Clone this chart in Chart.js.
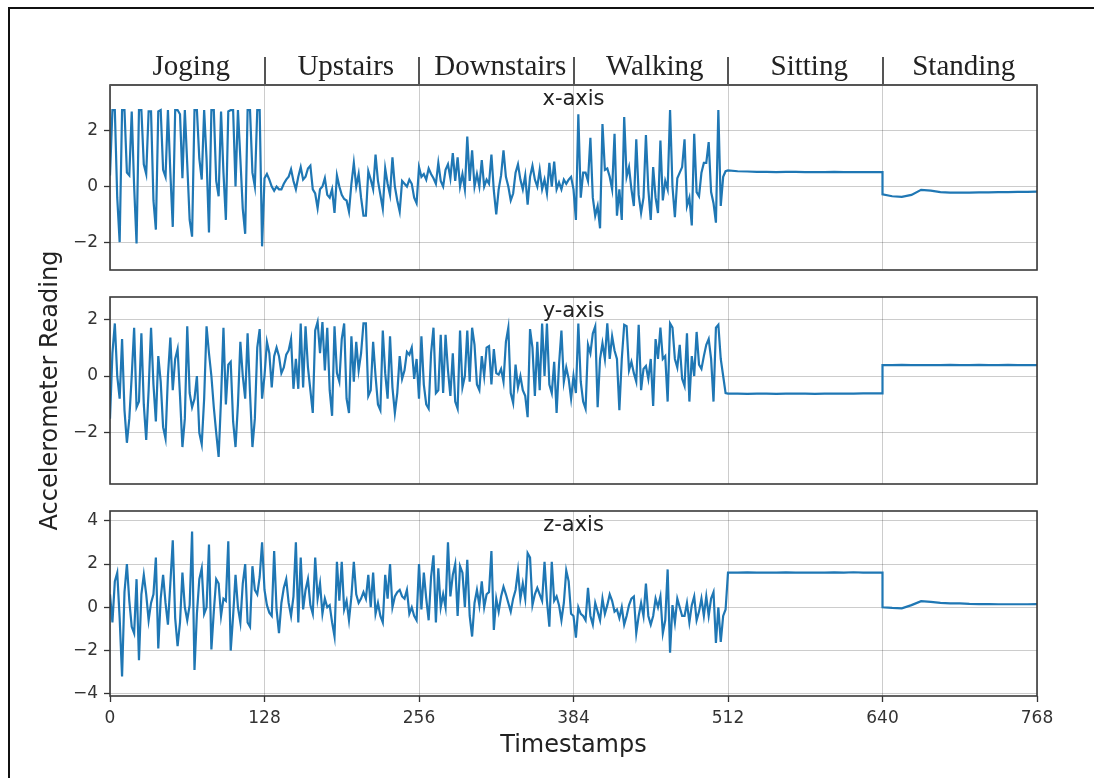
<!DOCTYPE html>
<html>
<head>
<meta charset="utf-8">
<script src="https://cdn.jsdelivr.net/npm/chart.js@4/dist/chart.umd.min.js"></script>
<style>
html,body{margin:0;padding:0;background:#fff;}
#wrap{position:relative;width:1094px;height:778px;overflow:hidden;background:#fff;}
#frame{position:absolute;left:8px;top:7px;width:1200px;height:900px;border-left:2px solid #111;border-top:2px solid #111;}
canvas{position:absolute;left:0;top:0;}
</style>
</head>
<body>
<div id="wrap">
<div id="frame"></div>
<canvas id="c1" width="1094" height="778"></canvas>
<canvas id="c2" width="1094" height="778"></canvas>
<canvas id="c3" width="1094" height="778"></canvas>
</div>
<script>
// ---------- categories / ticks ----------
const activities = ["Joging","Upstairs","Downstairs","Walking","Sitting","Standing"];
const xTicks = [0,128,256,384,512,640,768];
const yTicksX = [-2,0,2];
const yTicksY = [-2,0,2];
const yTicksZ = [-4,-2,0,2,4];

// ---------- x-axis accelerometer (noisy parts: every 2 samples; flat parts: every 8 samples) ----------
const xJoging = [0.4,2.75,2.75,-0.4,-2.0,2.75,2.75,0.5,0.4,2.7,0.0,-2.05,2.75,2.75,0.8,0.45,2.7,2.7,-0.5,-1.55,2.7,2.75,0.6,0.35,2.75,0.5,-1.45,2.75,2.75,2.6,0.3,2.75,0.8,-1.2,-1.8,2.75,2.75,1.0,0.25,2.75,1.0,-1.65,2.75,2.75,0.2,-0.35,2.7,0.5,-1.2,2.7,2.75,2.75,0.0,2.75,1.0,-0.8,-1.7,2.75,2.75,0.5,0.0,2.75,2.75,-2.15];
const xUpstairs = [0.3,0.45,0.25,0.0,-0.15,0.0,-0.1,-0.1,0.1,0.25,0.35,0.62,0.2,-0.1,0.35,0.7,0.25,0.35,0.65,0.75,-0.1,-0.25,-0.78,-0.1,0.0,0.3,-0.3,-0.4,-0.1,-0.95,0.4,0.0,-0.3,-0.45,-0.5,-0.9,0.1,0.85,0.0,0.45,-0.4,-1.05,-1.05,0.55,0.25,-0.1,1.15,0.2,-0.3,-0.8,0.65,0.1,-0.3,1.05,0.0,-0.5,-0.9,0.2,0.1,0.0,0.25,0.1,-0.4,-0.6];
const xDownstairs = [0.7,0.35,0.45,0.25,0.65,0.45,0.3,0.1,0.85,0.2,0.0,0.6,0.8,0.3,1.2,0.2,1.05,0.0,0.45,-0.1,1.8,0.2,1.3,0.0,0.45,0.0,0.95,0.0,0.25,0.1,1.15,-0.15,-1.0,-0.1,0.4,1.3,0.35,0.0,-0.5,-0.25,0.5,0.8,0.25,-0.1,0.4,-0.65,0.35,0.75,0.25,0.0,0.6,-0.1,0.25,-0.25,0.85,0.0,0.9,-0.1,0.15,-0.1,0.25,0.1,0.25,0.35];
const xWalking = [-0.1,-1.2,2.6,-0.4,0.5,0.5,0.2,1.75,-0.4,-1.05,-0.7,-1.5,2.25,0.6,0.65,0.35,-0.1,1.9,-1.05,-0.1,-1.2,2.5,0.35,0.7,-0.1,-0.7,1.7,-0.3,-0.95,-0.4,1.85,-0.1,-1.2,0.7,-0.4,-0.95,1.65,-0.5,0.2,-0.1,2.75,0.0,-1.1,0.3,0.5,0.7,1.7,-0.7,-0.4,-1.4,1.9,-0.2,-0.35,0.5,0.85,0.85,1.6,-0.2,-0.6,-1.3,2.75,-0.7,0.35,0.55];
const xSitting = [0.58,0.55,0.54,0.53,0.53,0.52,0.53,0.53,0.52,0.52,0.52,0.53,0.52,0.52,0.52,0.52,0.52];
const xStanding = [-0.28,-0.35,-0.37,-0.3,-0.12,-0.15,-0.2,-0.22,-0.22,-0.22,-0.21,-0.21,-0.2,-0.2,-0.19,-0.19,-0.18];

// ---------- y-axis accelerometer ----------
const yJoging = [-1.5,0.8,1.85,0.0,-0.8,1.3,-1.2,-2.35,-1.5,0.0,1.7,-1.1,-0.9,1.5,-1.0,-2.25,-0.5,1.7,-0.3,-1.6,0.7,-0.2,-1.8,-2.2,0.0,1.35,-0.5,0.6,0.95,-0.7,-2.5,-1.5,1.75,-0.6,-1.1,-0.8,0.0,-2.0,-2.4,-0.8,1.75,0.8,0.0,-1.1,-2.0,-2.85,-0.8,1.7,-1.0,0.4,0.5,-1.6,-2.5,-1.0,1.2,0.0,-0.8,1.5,-0.6,-2.5,-1.5,1.0,1.65,-0.8];
const yUpstairs = [0.0,1.2,0.8,-0.4,0.7,1.0,0.7,0.1,0.3,0.75,0.9,1.3,-0.45,0.6,-0.45,1.85,-0.4,1.75,0.3,-0.5,-1.3,1.6,1.9,0.8,1.9,0.2,1.7,-0.5,-1.4,1.75,0.1,-0.2,1.3,1.85,-0.8,-1.3,1.4,-0.2,1.2,0.2,0.8,1.85,1.85,-0.7,-0.5,1.2,0.0,-1.0,-1.2,1.6,0.1,-0.8,1.4,-0.4,-1.3,-0.6,0.7,-0.1,0.2,0.85,0.75,1.0,-0.1,0.6];
const yDownstairs = [-0.8,1.4,-0.3,-1.0,-1.15,0.8,1.7,-0.6,-0.5,1.45,-0.6,1.45,0.2,-0.7,0.8,-0.9,-1.15,1.6,-0.4,0.0,1.6,-0.2,1.7,1.1,-0.3,-0.5,0.7,0.0,1.0,1.05,-0.3,0.95,0.1,0.05,0.25,-0.2,1.2,1.7,-0.6,-0.95,0.4,-0.4,0.0,-0.5,-0.7,-1.45,1.65,1.0,-0.7,1.2,-0.5,1.85,0.0,1.85,-0.3,-0.6,0.5,-1.3,0.4,1.6,-0.2,0.3,-0.1,-0.8];
const yWalking = [0.0,-0.6,1.85,-0.2,-0.9,-1.15,1.1,0.8,1.5,1.75,-1.1,0.6,1.15,0.6,1.85,0.6,1.4,0.9,0.6,-1.2,0.6,1.8,1.75,0.2,0.5,0.1,-0.2,1.8,-0.5,0.25,0.35,-0.1,0.6,-1.05,1.3,0.6,1.7,0.6,0.7,-0.9,1.85,1.7,0.6,0.3,1.1,-0.1,-0.35,1.5,-0.9,0.7,0.0,1.55,0.4,0.25,0.7,1.1,1.3,0.6,-0.9,1.7,1.8,0.6,0.0,-0.6];
const ySitting = [-0.62,-0.62,-0.63,-0.62,-0.62,-0.63,-0.62,-0.62,-0.62,-0.63,-0.62,-0.62,-0.62,-0.62,-0.61,-0.61,-0.61];
const yStanding = [0.38,0.38,0.39,0.38,0.38,0.38,0.38,0.39,0.38,0.38,0.39,0.38,0.38,0.39,0.38,0.38,0.38];

// ---------- z-axis accelerometer ----------
const zJoging = [0.6,-0.7,1.2,1.6,-0.5,-3.2,0.7,2.0,0.3,-0.9,-1.2,1.3,-2.45,0.6,1.5,0.6,-0.6,0.2,0.6,2.3,-1.9,0.4,1.5,0.2,-0.8,1.1,3.1,-0.5,-1.8,-0.7,1.6,0.0,-0.6,0.1,3.5,-2.9,-0.3,1.3,1.8,-0.3,0.0,2.9,-1.95,-0.2,1.3,1.1,-0.4,0.4,0.3,3.05,-2.0,-0.4,1.5,0.0,-0.7,1.1,2.0,-0.7,-0.9,1.9,0.8,0.6,1.4,3.0];
const zUpstairs = [0.8,0.1,-0.25,-0.4,2.6,-0.1,-1.2,0.2,0.9,1.3,0.2,-0.4,0.5,3.0,-0.7,2.3,-0.1,0.8,1.3,0.1,-0.3,2.3,0.4,1.1,-0.3,0.4,0.0,0.1,-0.7,-1.35,2.1,0.3,2.1,-0.1,0.3,-0.6,0.5,2.1,0.6,0.2,0.4,0.7,0.4,1.5,0.0,1.6,-0.3,0.2,-0.4,-0.7,1.5,0.4,2.0,0.0,0.5,0.7,0.8,0.5,0.4,0.8,-0.3,0.0,-0.4,-0.6];
const zDownstairs = [2.0,-0.1,1.6,0.4,-0.6,1.4,2.4,-0.7,1.8,0.0,0.6,0.0,3.0,0.5,1.5,2.0,-0.4,1.9,1.6,0.0,2.2,-0.4,-1.35,0.2,0.8,0.1,1.2,0.0,0.6,0.7,2.6,-1.05,0.4,-0.2,0.5,0.95,0.6,0.2,-0.2,0.4,0.8,1.7,0.4,1.1,0.4,2.5,2.3,0.1,0.6,0.9,0.6,0.3,2.1,0.3,-0.9,2.1,0.3,0.5,0.1,-0.6,0.2,1.7,1.2,-0.3];
const zWalking = [-0.4,-1.4,0.0,-0.3,-0.4,-0.6,0.9,-0.4,-0.8,0.2,-0.2,-0.6,0.4,-0.3,0.1,0.6,0.3,-0.2,-0.1,-0.5,0.0,-0.8,-0.4,0.1,0.4,0.5,-1.2,-0.4,0.2,-0.4,1.1,-0.4,-0.8,-0.4,0.4,0.0,0.5,-1.2,-0.6,1.75,-2.1,0.1,-0.7,0.4,0.0,-0.4,-0.4,0.2,-0.7,0.1,0.5,-0.6,-0.2,0.4,-0.4,0.5,-0.4,0.4,0.7,-1.65,0.0,-1.6,-0.4,-0.1];
const zSitting = [1.6,1.6,1.61,1.6,1.6,1.6,1.61,1.6,1.6,1.6,1.6,1.61,1.6,1.62,1.6,1.6,1.6];
const zStanding = [0.0,-0.03,-0.05,0.1,0.28,0.25,0.2,0.18,0.18,0.16,0.15,0.15,0.14,0.14,0.14,0.14,0.15];

// ---------- build point lists (timestamp = segment start + index * sampling step) ----------
const SEG = 128, NOISY_STEP = 2, FLAT_STEP = 8;
function pts(segIndex, step, vals){ return vals.map((v,i)=>({x: segIndex*SEG + i*step, y: v})); }
function buildSeries(j,u,d,w,si,st){
  return [].concat(pts(0,NOISY_STEP,j), pts(1,NOISY_STEP,u), pts(2,NOISY_STEP,d), pts(3,NOISY_STEP,w), pts(4,FLAT_STEP,si), pts(5,FLAT_STEP,st));
}
const seriesX = buildSeries(xJoging,xUpstairs,xDownstairs,xWalking,xSitting,xStanding);
const seriesY = buildSeries(yJoging,yUpstairs,yDownstairs,yWalking,ySitting,yStanding);
const seriesZ = buildSeries(zJoging,zUpstairs,zDownstairs,zWalking,zSitting,zStanding);

// ---------- styling ----------
const FONT = 'DejaVu Sans';
const GRID = 'rgba(0,0,0,0.2)';
const TICKC = '#333';
const LINE = '#1f77b4';
const fmt = v => (v < 0 ? '\u2212' + Math.abs(v) : String(v));

function decoPlugin(title, extra){
  return {
    id: 'deco',
    afterDraw(chart){
      const ctx = chart.ctx, a = chart.chartArea;
      ctx.save();
      ctx.strokeStyle = '#3a3a3a';
      ctx.lineWidth = 1.6;
      ctx.strokeRect(a.left, a.top, a.right - a.left, a.bottom - a.top);
      ctx.fillStyle = '#222';
      ctx.font = '21px "' + FONT + '"';
      ctx.textAlign = 'center';
      ctx.textBaseline = 'middle';
      ctx.fillText(title, (a.left + a.right) / 2, a.top + 15);
      if (extra) extra(chart);
      ctx.restore();
    }
  };
}

function activityRow(chart){
  const ctx = chart.ctx, xs = chart.scales.x, a = chart.chartArea;
  ctx.font = '29px "Liberation Serif"';
  ctx.fillStyle = '#222';
  ctx.textAlign = 'center';
  ctx.textBaseline = 'alphabetic';
  activities.forEach((name, i) => ctx.fillText(name, xs.getPixelForValue(i*SEG + SEG/2) + 4, 75));
  ctx.strokeStyle = '#555';
  ctx.lineWidth = 2;
  for (let k = 1; k < activities.length; k++){
    const x = Math.round(xs.getPixelForValue(k*SEG));
    ctx.beginPath(); ctx.moveTo(x, 57); ctx.lineTo(x, a.top); ctx.stroke();
  }
  ctx.lineWidth = 2.2;
  ctx.beginPath(); ctx.moveTo(a.left, a.top); ctx.lineTo(a.right, a.top); ctx.stroke();
}

const H = 778;
function makeChart(id, data, yMin, yMax, yTicks, title, o){
  return new Chart(document.getElementById(id), {
    type: 'line',
    data: { datasets: [{ data: data, borderColor: LINE, borderWidth: 2.2, pointRadius: 0, tension: 0, fill: false }] },
    options: {
      responsive: false,
      animation: false,
      events: [],
      layout: { padding: { top: o.top, right: 57, bottom: o.padBottom, left: 0 } },
      plugins: { legend: { display: false }, tooltip: { enabled: false } },
      scales: {
        x: {
          type: 'linear', min: 0, max: 768,
          afterBuildTicks: s => { s.ticks = xTicks.map(v => ({ value: v })); },
          afterFit: s => { s.height = o.xHeight; },
          border: { display: false },
          grid: { color: GRID, lineWidth: 1, drawTicks: o.showX, tickLength: 6, tickColor: TICKC, tickWidth: 1.3 },
          ticks: { display: o.showX, padding: 6, color: '#333', maxRotation: 0, autoSkip: false,
                   font: { family: FONT, size: 17 }, callback: v => fmt(v) },
          title: { display: o.showX, text: 'Timestamps', color: '#222',
                   font: { family: FONT, size: 24 }, padding: { top: 0, bottom: 18 } }
        },
        y: {
          min: yMin, max: yMax,
          afterBuildTicks: s => { s.ticks = yTicks.map(v => ({ value: v })); },
          afterFit: s => { s.width = 110; },
          border: { display: false },
          grid: { color: GRID, lineWidth: 1, drawTicks: true, tickLength: 6, tickColor: TICKC, tickWidth: 1.3 },
          ticks: { padding: 6, color: '#333', font: { family: FONT, size: 17 }, callback: v => fmt(v) },
          title: { display: !!o.yTitle, text: o.yTitle || '', color: '#222',
                   font: { family: FONT, size: 24 }, padding: { top: 36, bottom: 0 } }
        }
      }
    },
    plugins: [decoPlugin(title, o.extra)]
  });
}

makeChart('c1', seriesX, -3.0, 3.65, yTicksX, 'x-axis',
  { top: 85, padBottom: H - 270, xHeight: 0, showX: false, extra: activityRow });
makeChart('c2', seriesY, -3.8, 2.78, yTicksY, 'y-axis',
  { top: 297, padBottom: H - 484, xHeight: 0, showX: false, yTitle: 'Accelerometer Reading' });
makeChart('c3', seriesZ, -4.1, 4.45, yTicksZ, 'z-axis',
  { top: 511, padBottom: 0, xHeight: H - 696, showX: true });
</script>
</body>
</html>
